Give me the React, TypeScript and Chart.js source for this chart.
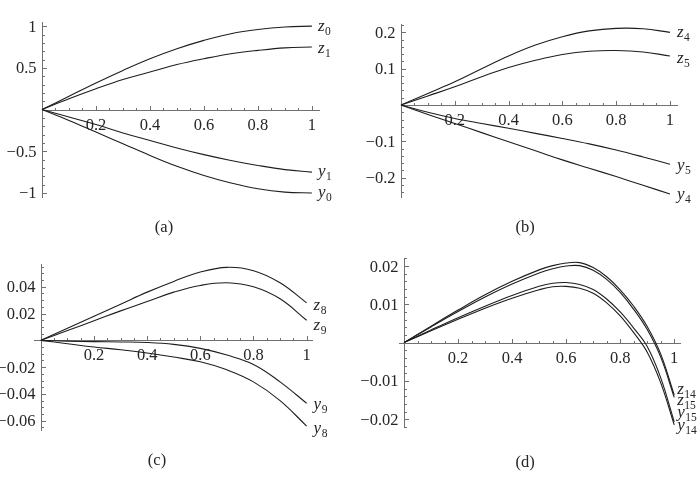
import { useEffect, useRef } from "react";
import { Chart, registerables } from "chart.js";

Chart.register(...registerables);

const SERIF = '"Liberation Serif", "DejaVu Serif", "Times New Roman", serif';
const AXIS_COLOR = "#707070";
const CURVE_COLOR = "#1e1e1e";
const TEXT_COLOR = "#262626";

// ---- panel (a) ----
const xA = [0, 0.1, 0.2, 0.3, 0.4, 0.5, 0.6, 0.7, 0.8, 0.9, 1];
const z0 = [0, 0.16, 0.32, 0.47, 0.61, 0.73, 0.83, 0.91, 0.96, 0.99, 1.0];
const z1 = [0, 0.13, 0.25, 0.36, 0.45, 0.54, 0.61, 0.67, 0.71, 0.74, 0.75];
const y1 = [0, -0.09, -0.18, -0.28, -0.37, -0.46, -0.54, -0.61, -0.67, -0.72, -0.75];
const y0 = [0, -0.13, -0.27, -0.41, -0.55, -0.68, -0.79, -0.88, -0.95, -0.99, -1.0];
const xTicksA = [0.2, 0.4, 0.6, 0.8, 1];
const xTickLabelsA = ["0.2", "0.4", "0.6", "0.8", "1"];
const yTicksA = [-1, -0.5, 0.5, 1];
const yTickLabelsA = ["\u22121", "\u22120.5", "0.5", "1"];

// ---- panel (b) ----
const xB = [0, 0.1, 0.2, 0.3, 0.4, 0.5, 0.6, 0.7, 0.8, 0.9, 1];
const z4 = [0, 0.032, 0.064, 0.1, 0.135, 0.165, 0.188, 0.204, 0.211, 0.21, 0.2];
const z5 = [0, 0.025, 0.05, 0.078, 0.103, 0.123, 0.139, 0.148, 0.15, 0.146, 0.135];
const y5 = [0, -0.02, -0.037, -0.051, -0.064, -0.078, -0.092, -0.107, -0.124, -0.143, -0.163];
const y4 = [0, -0.026, -0.051, -0.076, -0.101, -0.126, -0.151, -0.174, -0.197, -0.221, -0.245];
const xTicksB = [0.2, 0.4, 0.6, 0.8, 1];
const xTickLabelsB = ["0.2", "0.4", "0.6", "0.8", "1"];
const yTicksB = [-0.2, -0.1, 0.1, 0.2];
const yTickLabelsB = ["\u22120.2", "\u22120.1", "0.1", "0.2"];

// ---- panel (c) ----
const xC = [0, 0.1, 0.2, 0.3, 0.4, 0.5, 0.6, 0.7, 0.8, 0.9, 1];
const z8 = [0, 0.009, 0.018, 0.027, 0.036, 0.044, 0.051, 0.0545, 0.052, 0.043, 0.028];
const z9 = [0, 0.0073, 0.0146, 0.022, 0.029, 0.036, 0.041, 0.043, 0.04, 0.031, 0.015];
const y9 = [0, -0.0006, -0.001, -0.0012, -0.0016, -0.003, -0.006, -0.011, -0.018, -0.031, -0.047];
const y8 = [0, -0.0025, -0.005, -0.007, -0.0095, -0.0125, -0.016, -0.022, -0.031, -0.045, -0.064];
const xTicksC = [0.2, 0.4, 0.6, 0.8, 1];
const xTickLabelsC = ["0.2", "0.4", "0.6", "0.8", "1"];
const yTicksC = [-0.06, -0.04, -0.02, 0.02, 0.04];
const yTickLabelsC = ["\u22120.06", "\u22120.04", "\u22120.02", "0.02", "0.04"];

// ---- panel (d) ----
const xD = [0, 0.1, 0.2, 0.3, 0.4, 0.5, 0.55, 0.6, 0.65, 0.7, 0.75, 0.8, 0.85, 0.9, 0.95, 1];
const z14 = [0, 0.0043, 0.0085, 0.0125, 0.016, 0.019, 0.0201, 0.0208, 0.0209, 0.0196, 0.0172, 0.0138, 0.0095, 0.0042, -0.003, -0.0137];
const z15 = [0, 0.0041, 0.0081, 0.0119, 0.0153, 0.0182, 0.0193, 0.02, 0.0201, 0.0189, 0.0165, 0.0131, 0.0087, 0.0034, -0.0038, -0.0143];
const y15 = [0, 0.0033, 0.0065, 0.0095, 0.0123, 0.0147, 0.0155, 0.0157, 0.0152, 0.0139, 0.0114, 0.008, 0.0038, -0.001, -0.0092, -0.0207];
const y14 = [0, 0.0031, 0.0061, 0.009, 0.0116, 0.0138, 0.0146, 0.0147, 0.0142, 0.0129, 0.0104, 0.007, 0.0026, -0.0025, -0.0105, -0.0215];
const xTicksD = [0.2, 0.4, 0.6, 0.8, 1];
const xTickLabelsD = ["0.2", "0.4", "0.6", "0.8", "1"];
const yTicksD = [-0.02, -0.01, 0.01, 0.02];
const yTickLabelsD = ["\u22120.02", "\u22120.01", "0.01", "0.02"];

type Curve = { sym: string; sub: string; values: number[]; dy: number };
type Panel = {
  caption: string;
  xs: number[];
  curves: Curve[];
  xMin: number;
  xMax: number;
  yMin: number;
  yMax: number;
  xTicks: number[];
  xTickLabels: string[];
  yTicks: number[];
  yTickLabels: string[];
  xMinorStep: number;
  yMinorStep: number;
  pad: { left: number; right: number; top: number; bottom: number };
  captionX: number;
  captionY: number;
  labelGap: number;
};

const PANELS: Panel[] = [
  {
    caption: "(a)",
    xs: xA,
    curves: [
      { sym: "z", sub: "0", values: z0, dy: 1 },
      { sym: "z", sub: "1", values: z1, dy: 2 },
      { sym: "y", sub: "1", values: y1, dy: 0 },
      { sym: "y", sub: "0", values: y0, dy: 0 },
    ],
    xMin: 0, xMax: 1.03, yMin: -1.06, yMax: 1.05,
    xTicks: xTicksA, xTickLabels: xTickLabelsA,
    yTicks: yTicksA, yTickLabels: yTickLabelsA,
    xMinorStep: 0.05, yMinorStep: 0.1,
    pad: { left: 42, right: 29, top: 22, bottom: 43 },
    captionX: 164, captionY: 228, labelGap: 6,
  },
  {
    caption: "(b)",
    xs: xB,
    curves: [
      { sym: "z", sub: "4", values: z4, dy: 1 },
      { sym: "z", sub: "5", values: z5, dy: 3 },
      { sym: "y", sub: "5", values: y5, dy: 2 },
      { sym: "y", sub: "4", values: y4, dy: 1 },
    ],
    xMin: 0, xMax: 1.03, yMin: -0.256, yMax: 0.223,
    xTicks: xTicksB, xTickLabels: xTickLabelsB,
    yTicks: yTicksB, yTickLabels: yTickLabelsB,
    xMinorStep: 0.05, yMinorStep: 0.02,
    pad: { left: 52, right: 20, top: 24, bottom: 43 },
    captionX: 176, captionY: 228, labelGap: 7,
  },
  {
    caption: "(c)",
    xs: xC,
    curves: [
      { sym: "z", sub: "8", values: z8, dy: 3 },
      { sym: "z", sub: "9", values: z9, dy: 6 },
      { sym: "y", sub: "9", values: y9, dy: 2 },
      { sym: "y", sub: "8", values: y8, dy: 3 },
    ],
    xMin: -0.026, xMax: 1.024, yMin: -0.0677, yMax: 0.057,
    xTicks: xTicksC, xTickLabels: xTickLabelsC,
    yTicks: yTicksC, yTickLabels: yTickLabelsC,
    xMinorStep: 0.05, yMinorStep: 0.005,
    pad: { left: 34, right: 36, top: 23, bottom: 51 },
    captionX: 157, captionY: 220, labelGap: 7,
  },
  {
    caption: "(d)",
    xs: xD,
    curves: [
      { sym: "z", sub: "14", values: z14, dy: -5 },
      { sym: "z", sub: "15", values: z15, dy: 4 },
      { sym: "y", sub: "15", values: y15, dy: -9 },
      { sym: "y", sub: "14", values: y14, dy: 1 },
    ],
    xMin: -0.0185, xMax: 1.025, yMin: -0.0223, yMax: 0.0221,
    xTicks: xTicksD, xTickLabels: xTickLabelsD,
    yTicks: yTicksD, yTickLabels: yTickLabelsD,
    xMinorStep: 0.05, yMinorStep: 0.002,
    pad: { left: 50, right: 17, top: 17, bottom: 54 },
    captionX: 176, captionY: 222, labelGap: 3,
  },
];

const W = 349;
const H = 241;

function stepsIn(min: number, max: number, step: number): number[] {
  const out: number[] = [];
  const start = Math.ceil(min / step - 1e-9);
  const end = Math.floor(max / step + 1e-9);
  for (let k = start; k <= end; k++) out.push(+(k * step).toFixed(6));
  return out;
}

// Axes crossing at the origin with major/minor ticks, the curve names
// at each curve's right end, and the panel caption underneath.
function makeAxesPlugin(p: Panel) {
  return {
    id: "originAxes",
    beforeDatasetsDraw(chart: any) {
      const ctx: CanvasRenderingContext2D = chart.ctx;
      const xs = chart.scales.x;
      const ys = chart.scales.y;
      const ox = Math.round(xs.getPixelForValue(0)) + 0.5;
      const oy = Math.round(ys.getPixelForValue(0)) + 0.5;
      ctx.save();
      ctx.strokeStyle = AXIS_COLOR;
      ctx.lineWidth = 1;
      ctx.beginPath();
      ctx.moveTo(xs.left, oy);
      ctx.lineTo(xs.right, oy);
      ctx.moveTo(ox, ys.top);
      ctx.lineTo(ox, ys.bottom);
      // x ticks (pointing up)
      for (const v of stepsIn(p.xMin, p.xMax, p.xMinorStep)) {
        if (Math.abs(v) < 1e-9) continue;
        const major = p.xTicks.some((t) => Math.abs(t - v) < 1e-6);
        const px = Math.round(xs.getPixelForValue(v)) + 0.5;
        ctx.moveTo(px, oy);
        ctx.lineTo(px, oy - (major ? 4.5 : 2.5));
      }
      // y ticks (pointing right)
      for (const v of stepsIn(p.yMin, p.yMax, p.yMinorStep)) {
        if (Math.abs(v) < 1e-9) continue;
        const major = p.yTicks.some((t) => Math.abs(t - v) < 1e-9);
        const py = Math.round(ys.getPixelForValue(v)) + 0.5;
        ctx.moveTo(ox, py);
        ctx.lineTo(ox + (major ? 4.5 : 2.5), py);
      }
      ctx.stroke();

      ctx.fillStyle = TEXT_COLOR;
      ctx.font = `16.5px ${SERIF}`;
      ctx.textBaseline = "alphabetic";
      ctx.textAlign = "center";
      p.xTicks.forEach((v, i) => {
        ctx.fillText(p.xTickLabels[i], xs.getPixelForValue(v), oy + 19);
      });
      ctx.textAlign = "right";
      p.yTicks.forEach((v, i) => {
        ctx.fillText(p.yTickLabels[i], ox - 6, ys.getPixelForValue(v) + 5.5);
      });
      ctx.restore();
    },
    afterDatasetsDraw(chart: any) {
      const ctx: CanvasRenderingContext2D = chart.ctx;
      const xs = chart.scales.x;
      const ys = chart.scales.y;
      ctx.save();
      ctx.fillStyle = TEXT_COLOR;
      ctx.textBaseline = "alphabetic";
      ctx.textAlign = "left";
      const lastX = p.xs[p.xs.length - 1];
      for (const c of p.curves) {
        const endVal = c.values[c.values.length - 1];
        const lx = xs.getPixelForValue(lastX) + p.labelGap;
        const base = ys.getPixelForValue(endVal) + c.dy + 3.8;
        ctx.font = `italic 17px ${SERIF}`;
        ctx.fillText(c.sym, lx, base);
        const w = ctx.measureText(c.sym).width;
        ctx.font = `11.5px ${SERIF}`;
        ctx.fillText(c.sub, lx + w + 0.5, base + 4);
      }
      ctx.font = `16.5px ${SERIF}`;
      ctx.textAlign = "center";
      ctx.textBaseline = "middle";
      ctx.fillText(p.caption, p.captionX, p.captionY);
      ctx.restore();
    },
  };
}

function PanelChart({ panel, left, top }: { panel: Panel; left: number; top: number }) {
  const ref = useRef<HTMLCanvasElement | null>(null);
  useEffect(() => {
    if (!ref.current) return;
    const chart = new Chart(ref.current, {
      type: "line",
      data: {
        datasets: panel.curves.map((c) => ({
          label: c.sym + c.sub,
          data: panel.xs.map((x, i) => ({ x, y: c.values[i] })),
          borderColor: CURVE_COLOR,
          borderWidth: 1.1,
          pointRadius: 0,
          tension: 0.4,
          fill: false,
          clip: false as any,
        })),
      },
      options: {
        responsive: false,
        animation: false,
        devicePixelRatio: 1,
        layout: { padding: panel.pad },
        plugins: { legend: { display: false }, tooltip: { enabled: false } },
        events: [],
        scales: {
          x: { type: "linear", display: false, min: panel.xMin, max: panel.xMax, bounds: "data" },
          y: { type: "linear", display: false, min: panel.yMin, max: panel.yMax, bounds: "data" },
        },
      },
      plugins: [makeAxesPlugin(panel)],
    });
    return () => chart.destroy();
  }, [panel]);
  return (
    <canvas
      ref={ref}
      width={W}
      height={H}
      style={{ position: "absolute", left, top, width: W, height: H }}
    />
  );
}

export default function App() {
  return (
    <div style={{ position: "absolute", left: 0, top: 0, width: 698, height: 482, background: "#fff" }}>
      {PANELS.map((p, i) => (
        <PanelChart key={p.caption} panel={p} left={(i % 2) * W} top={Math.floor(i / 2) * H} />
      ))}
    </div>
  );
}
